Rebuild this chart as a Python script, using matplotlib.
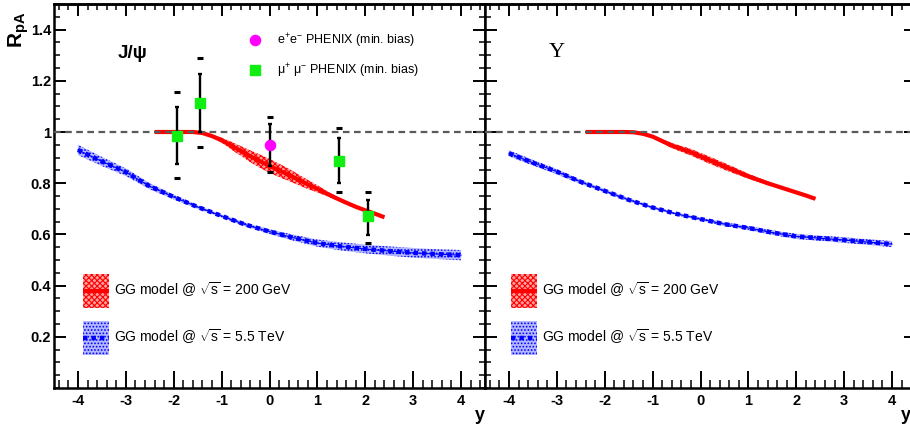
import matplotlib
matplotlib.use("Agg")
import matplotlib.pyplot as plt
from matplotlib.patches import Patch
from matplotlib.lines import Line2D
from matplotlib.legend_handler import HandlerLine2D
from matplotlib.ticker import MultipleLocator, FixedLocator
import numpy as np

plt.rcParams['font.family'] = ['Liberation Sans', 'DejaVu Sans']
plt.rcParams['mathtext.fontset'] = 'custom'
plt.rcParams['mathtext.rm'] = 'Liberation Sans'
plt.rcParams['mathtext.it'] = 'Liberation Sans:italic'
plt.rcParams['mathtext.bf'] = 'Liberation Sans:bold'
plt.rcParams['hatch.linewidth'] = 0.8

# ---- data ----
xticks = [-4, -3, -2, -1, 0, 1, 2, 3, 4]
xtick_labels = ['-4', '-3', '-2', '-1', '0', '1', '2', '3', '4']
yticks = [0.2, 0.4, 0.6, 0.8, 1.0, 1.2, 1.4]
ytick_labels = ['0.2', '0.4', '0.6', '0.8', '1', '1.2', '1.4']

# J/psi, GG model 200 GeV (red band)
jpsi_rhic_y = [-2.4, -2.0, -1.6, -1.4, -1.2, -1.0, -0.8, -0.6, -0.4, -0.2, 0.0, 0.2,
               0.4, 0.6, 0.8, 1.0, 1.2, 1.4, 1.6, 1.8, 2.0, 2.2, 2.4]
jpsi_rhic_r = [1.0, 1.0, 1.0, 0.996, 0.984, 0.968, 0.947, 0.926, 0.905, 0.886, 0.868, 0.85,
               0.833, 0.814, 0.795, 0.778, 0.759, 0.741, 0.724, 0.708, 0.694, 0.681, 0.667]
jpsi_rhic_err = [0, 0, 0, 0.002, 0.005, 0.01, 0.015, 0.019, 0.023, 0.026, 0.027, 0.026,
                 0.024, 0.021, 0.018, 0.014, 0.01, 0.007, 0.005, 0.004, 0.003, 0.002, 0.002]

# J/psi, GG model 5.5 TeV (blue band)
lhc_y = [-4, -3.5, -3, -2.5, -2, -1.5, -1, -0.5, 0, 0.5, 1, 1.5, 2, 2.5, 3, 3.5, 4]
jpsi_lhc_r = [0.93, 0.885, 0.843, 0.788, 0.746, 0.707, 0.672, 0.638, 0.611, 0.587, 0.566,
              0.553, 0.543, 0.535, 0.528, 0.523, 0.519]
jpsi_lhc_err = [0.02, 0.018, 0.015, 0.012, 0.009, 0.007, 0.006, 0.007, 0.009, 0.012, 0.014,
                0.016, 0.017, 0.018, 0.019, 0.019, 0.02]

# Upsilon, GG model 200 GeV
ups_rhic_y = [-2.4, -2.0, -1.6, -1.4, -1.2, -1.0, -0.6, -0.2, 0.2, 0.6, 1.0, 1.4, 1.8,
              2.0, 2.2, 2.4]
ups_rhic_r = [1.0, 1.0, 1.0, 0.999, 0.993, 0.982, 0.947, 0.921, 0.889, 0.858, 0.827, 0.8,
              0.776, 0.764, 0.752, 0.739]
ups_rhic_err = [0, 0, 0, 0, 0.002, 0.005, 0.01, 0.013, 0.014, 0.013, 0.01, 0.007, 0.004,
                0.003, 0.002, 0.002]

# Upsilon, GG model 5.5 TeV
ups_lhc_r = [0.917, 0.88, 0.845, 0.805, 0.77, 0.735, 0.705, 0.68, 0.66, 0.64, 0.625,
             0.607, 0.592, 0.585, 0.578, 0.57, 0.562]
ups_lhc_err = [0.012, 0.011, 0.01, 0.008, 0.007, 0.006, 0.005, 0.005, 0.006, 0.007, 0.008,
               0.009, 0.01, 0.01, 0.011, 0.011, 0.012]

# PHENIX mu+mu- (min. bias)
mu_y = [-1.94, -1.45, 1.46, 2.06]
mu_r = [0.984, 1.112, 0.888, 0.67]
mu_stat_lo = [0.875, 0.999, 0.802, 0.598]
mu_stat_hi = [1.099, 1.227, 0.978, 0.734]
mu_syst_lo = [0.819, 0.943, 0.767, 0.568]
mu_syst_hi = [1.157, 1.288, 1.014, 0.767]

# PHENIX e+e- (min. bias)
ee_y = [0.0]
ee_r = [0.949]
ee_stat_lo = [0.868]
ee_stat_hi = [1.031]
ee_syst_lo = [0.845]
ee_syst_hi = [1.057]

RED = '#ff0000'
RED_FILL = '#ffa0a0'
BLUE = '#0000ff'
BLUE_FILL = '#b4b8ff'
GREEN = '#11ee11'
MAGENTA = '#ff00ff'

W, H = 910, 430
fig = plt.figure(figsize=(W / 100, H / 100), dpi=100)


def px_box(x0, x1, y0, y1):
    return [x0 / W, 1 - y1 / H, (x1 - x0) / W, (y1 - y0) / H]


axL = fig.add_axes(px_box(54, 485, 4, 388))
axR = fig.add_axes(px_box(485, 916, 4, 388))


class CenteredLine(HandlerLine2D):
    # put the legend line through the middle of the hatched box
    def create_artists(self, legend, orig_handle, xdescent, ydescent, width, height,
                       fontsize, trans):
        arts = super().create_artists(legend, orig_handle, xdescent, ydescent, width,
                                      height, fontsize, trans)
        for a in arts:
            a.set_ydata(np.full(len(a.get_xdata()), height / 2 - ydescent))
            a.set_solid_capstyle('butt')
            a.set_dash_capstyle('butt')
        return arts


def style(ax, ylab):
    ax.set_xlim(-4.5, 4.5)
    ax.set_ylim(0, 1.5)
    for s in ax.spines.values():
        s.set_linewidth(1.8)
    ax.xaxis.set_major_locator(FixedLocator(xticks))
    ax.xaxis.set_minor_locator(MultipleLocator(0.2))
    ax.yaxis.set_major_locator(FixedLocator(yticks))
    ax.yaxis.set_minor_locator(MultipleLocator(0.05))
    ax.set_xticklabels(xtick_labels, fontweight='bold', fontsize=10.5)
    ax.set_yticklabels(ytick_labels if ylab else [], fontweight='bold', fontsize=10.5)
    ax.tick_params(axis='x', which='major', direction='in', length=12.5, width=1.4,
                   top=False, pad=4)
    ax.tick_params(axis='x', which='minor', direction='in', length=5.8, width=1.1,
                   top=False)
    ax.tick_params(axis='y', which='major', direction='in', length=8.6, width=1.4,
                   left=True, right=True, pad=2)
    ax.tick_params(axis='y', which='minor', direction='in', length=4.6, width=1.1,
                   left=True, right=True)
    sec = ax.secondary_xaxis('top')
    sec.xaxis.set_major_locator(FixedLocator(xticks))
    sec.xaxis.set_minor_locator(MultipleLocator(0.2))
    sec.tick_params(which='major', direction='in', length=8.6, width=1.4, labeltop=False)
    sec.tick_params(which='minor', direction='in', length=4.3, width=1.1, labeltop=False)
    sec.spines['top'].set_linewidth(1.8)
    ax.axhline(1.0, color='#5a5a5a', lw=1.6, dashes=(3, 2), zorder=4)


def band(ax, x, y, e, fill, color, hatch):
    y = np.asarray(y)
    e = np.asarray(e)
    ax.fill_between(x, y - e, y + e, facecolor=fill, edgecolor=color, hatch=hatch,
                    lw=0, zorder=2)


def red_curve(ax, x, y):
    ax.plot(x, y, color=RED, lw=3, solid_capstyle='butt', zorder=3)


def blue_curve(ax, x, y):
    ax.plot(x, y, color=BLUE, lw=0.8, zorder=3)
    ax.plot(x, y, color=BLUE, lw=3.2, dashes=(1.0, 0.9), dash_capstyle='butt', zorder=3)


def points(ax, x, y, lo, hi, slo, shi, marker, color, ms):
    y = np.asarray(y)
    ax.errorbar(x, y, yerr=[y - np.asarray(lo), np.asarray(hi) - y], fmt='none',
                ecolor='black', elinewidth=1.7, capsize=1.6, capthick=1.7, zorder=5)
    ax.plot(x, slo, ls='none', marker='_', ms=4, mew=2.2, color='black', zorder=5)
    ax.plot(x, shi, ls='none', marker='_', ms=4, mew=2.2, color='black', zorder=5)
    ax.plot(x, y, ls='none', marker=marker, ms=ms, color=color, mec=color, zorder=6)


style(axL, True)
style(axR, False)

red_hatch = 'xxxxxx'
blue_hatch = '.....'

band(axL, jpsi_rhic_y, jpsi_rhic_r, jpsi_rhic_err, RED_FILL, RED, red_hatch)
red_curve(axL, jpsi_rhic_y, jpsi_rhic_r)
band(axL, lhc_y, jpsi_lhc_r, jpsi_lhc_err, BLUE_FILL, BLUE, blue_hatch)
blue_curve(axL, lhc_y, jpsi_lhc_r)
points(axL, mu_y, mu_r, mu_stat_lo, mu_stat_hi, mu_syst_lo, mu_syst_hi, 's', GREEN, 7)
points(axL, ee_y, ee_r, ee_stat_lo, ee_stat_hi, ee_syst_lo, ee_syst_hi, 'o', MAGENTA, 7.3)

band(axR, ups_rhic_y, ups_rhic_r, ups_rhic_err, RED_FILL, RED, red_hatch)
red_curve(axR, ups_rhic_y, ups_rhic_r)
band(axR, lhc_y, ups_lhc_r, ups_lhc_err, BLUE_FILL, BLUE, blue_hatch)
blue_curve(axR, lhc_y, ups_lhc_r)

model_labels = [r'GG model @ $\sqrt{\mathrm{s}}$ = 200 GeV',
                r'GG model @ $\sqrt{\mathrm{s}}$ = 5.5 TeV']
for ax, x0 in ((axL, 83), (axR, 511)):
    hands = [(Patch(facecolor=RED_FILL, edgecolor=RED, hatch=red_hatch, lw=0),
              Line2D([], [], color=RED, lw=3)),
             (Patch(facecolor=BLUE_FILL, edgecolor=BLUE, hatch=blue_hatch, lw=0),
              Line2D([], [], color=BLUE, lw=3.2, dashes=(1.0, 0.9)))]
    ax.legend(hands, model_labels, loc='upper left', bbox_to_anchor=(x0 / W, 1 - 274 / H),
              bbox_transform=fig.transFigure, frameon=False, fontsize=10,
              handlelength=1.9, handleheight=3.4, handletextpad=0.3,
              labelspacing=0.95, borderpad=0, borderaxespad=0,
              handler_map={Line2D: CenteredLine(marker_pad=0)})

pt_hands = [Line2D([], [], ls='none', marker='o', ms=7.3, color=MAGENTA),
            Line2D([], [], ls='none', marker='s', ms=7, color=GREEN)]
pt_labels = [r'e$^{+}$e$^{-}$ PHENIX (min. bias)', r'μ$^{+}$ μ$^{-}$ PHENIX (min. bias)']
fig.legend(pt_hands, pt_labels, loc='upper left', bbox_to_anchor=(248 / W, 1 - 32 / H),
           frameon=False, fontsize=9, handlelength=1.2, handletextpad=1.1,
           labelspacing=0.95, borderpad=0, borderaxespad=0)

fig.text(118 / W, 1 - 58 / H, 'J/ψ', fontsize=13.5, fontweight='bold', va='baseline')
fig.text(549 / W, 1 - 57 / H, 'Υ', fontsize=16, family='Liberation Serif', va='baseline')
fig.text(19 / W, 1 - 12 / H, r'$\mathbf{R}_{\mathbf{pA}}$', fontsize=15, rotation=90,
         ha='center', va='top')
fig.text(480 / W, 1 - 420 / H, 'y', fontsize=13, fontweight='bold', ha='center',
         va='baseline')
fig.text(906 / W, 1 - 420 / H, 'y', fontsize=13, fontweight='bold', ha='center',
         va='baseline')

fig.savefig('out.png', dpi=100)
